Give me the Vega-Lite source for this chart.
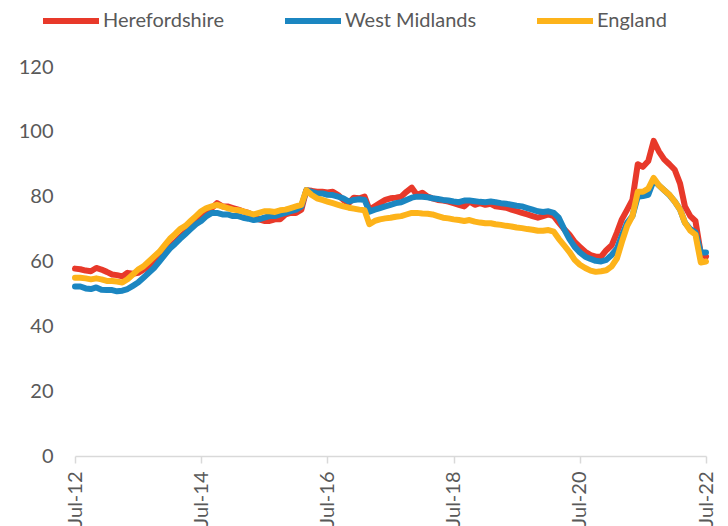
{
"$schema": "https://vega.github.io/schema/vega-lite/v6.json",
"width": 631,
"height": 389,
"autosize": {"type": "none"},
"padding": {"left": 75, "top": 67, "right": 22, "bottom": 70},
"config": {"view": {"stroke": null}, "font": "Lato"},
"data": {"values": [
{"date":"2012-07","region":"Herefordshire","value":57.8},{"date":"2012-08","region":"Herefordshire","value":57.6},{"date":"2012-09","region":"Herefordshire","value":57.2},{"date":"2012-10","region":"Herefordshire","value":57.0},{"date":"2012-11","region":"Herefordshire","value":58.0},{"date":"2012-12","region":"Herefordshire","value":57.5},
{"date":"2013-01","region":"Herefordshire","value":56.8},{"date":"2013-02","region":"Herefordshire","value":56.0},{"date":"2013-03","region":"Herefordshire","value":55.8},{"date":"2013-04","region":"Herefordshire","value":55.4},{"date":"2013-05","region":"Herefordshire","value":56.5},{"date":"2013-06","region":"Herefordshire","value":56.2},{"date":"2013-07","region":"Herefordshire","value":56.5},{"date":"2013-08","region":"Herefordshire","value":57.5},{"date":"2013-09","region":"Herefordshire","value":58.5},{"date":"2013-10","region":"Herefordshire","value":60.0},{"date":"2013-11","region":"Herefordshire","value":61.5},{"date":"2013-12","region":"Herefordshire","value":63.0},
{"date":"2014-01","region":"Herefordshire","value":64.5},{"date":"2014-02","region":"Herefordshire","value":66.0},{"date":"2014-03","region":"Herefordshire","value":67.5},{"date":"2014-04","region":"Herefordshire","value":69.0},{"date":"2014-05","region":"Herefordshire","value":70.5},{"date":"2014-06","region":"Herefordshire","value":72.0},{"date":"2014-07","region":"Herefordshire","value":74.5},{"date":"2014-08","region":"Herefordshire","value":76.0},{"date":"2014-09","region":"Herefordshire","value":76.5},{"date":"2014-10","region":"Herefordshire","value":78.0},{"date":"2014-11","region":"Herefordshire","value":77.0},{"date":"2014-12","region":"Herefordshire","value":77.0},
{"date":"2015-01","region":"Herefordshire","value":76.5},{"date":"2015-02","region":"Herefordshire","value":76.0},{"date":"2015-03","region":"Herefordshire","value":75.5},{"date":"2015-04","region":"Herefordshire","value":75.0},{"date":"2015-05","region":"Herefordshire","value":74.0},{"date":"2015-06","region":"Herefordshire","value":73.0},{"date":"2015-07","region":"Herefordshire","value":72.5},{"date":"2015-08","region":"Herefordshire","value":72.5},{"date":"2015-09","region":"Herefordshire","value":73.0},{"date":"2015-10","region":"Herefordshire","value":73.0},{"date":"2015-11","region":"Herefordshire","value":74.5},{"date":"2015-12","region":"Herefordshire","value":75.0},
{"date":"2016-01","region":"Herefordshire","value":75.0},{"date":"2016-02","region":"Herefordshire","value":76.0},{"date":"2016-03","region":"Herefordshire","value":82.0},{"date":"2016-04","region":"Herefordshire","value":81.8},{"date":"2016-05","region":"Herefordshire","value":81.5},{"date":"2016-06","region":"Herefordshire","value":81.5},{"date":"2016-07","region":"Herefordshire","value":81.3},{"date":"2016-08","region":"Herefordshire","value":81.5},{"date":"2016-09","region":"Herefordshire","value":80.5},{"date":"2016-10","region":"Herefordshire","value":79.0},{"date":"2016-11","region":"Herefordshire","value":78.0},{"date":"2016-12","region":"Herefordshire","value":79.7},
{"date":"2017-01","region":"Herefordshire","value":79.5},{"date":"2017-02","region":"Herefordshire","value":80.0},{"date":"2017-03","region":"Herefordshire","value":76.0},{"date":"2017-04","region":"Herefordshire","value":77.0},{"date":"2017-05","region":"Herefordshire","value":78.0},{"date":"2017-06","region":"Herefordshire","value":79.0},{"date":"2017-07","region":"Herefordshire","value":79.5},{"date":"2017-08","region":"Herefordshire","value":79.7},{"date":"2017-09","region":"Herefordshire","value":80.0},{"date":"2017-10","region":"Herefordshire","value":81.5},{"date":"2017-11","region":"Herefordshire","value":82.8},{"date":"2017-12","region":"Herefordshire","value":80.5},
{"date":"2018-01","region":"Herefordshire","value":81.2},{"date":"2018-02","region":"Herefordshire","value":80.0},{"date":"2018-03","region":"Herefordshire","value":79.5},{"date":"2018-04","region":"Herefordshire","value":79.0},{"date":"2018-05","region":"Herefordshire","value":78.8},{"date":"2018-06","region":"Herefordshire","value":78.5},{"date":"2018-07","region":"Herefordshire","value":78.0},{"date":"2018-08","region":"Herefordshire","value":77.5},{"date":"2018-09","region":"Herefordshire","value":77.0},{"date":"2018-10","region":"Herefordshire","value":78.5},{"date":"2018-11","region":"Herefordshire","value":77.5},{"date":"2018-12","region":"Herefordshire","value":78.0},
{"date":"2019-01","region":"Herefordshire","value":77.5},{"date":"2019-02","region":"Herefordshire","value":77.8},{"date":"2019-03","region":"Herefordshire","value":77.0},{"date":"2019-04","region":"Herefordshire","value":76.8},{"date":"2019-05","region":"Herefordshire","value":76.6},{"date":"2019-06","region":"Herefordshire","value":76.0},{"date":"2019-07","region":"Herefordshire","value":75.5},{"date":"2019-08","region":"Herefordshire","value":75.0},{"date":"2019-09","region":"Herefordshire","value":74.5},{"date":"2019-10","region":"Herefordshire","value":74.0},{"date":"2019-11","region":"Herefordshire","value":73.5},{"date":"2019-12","region":"Herefordshire","value":74.0},
{"date":"2020-01","region":"Herefordshire","value":74.5},{"date":"2020-02","region":"Herefordshire","value":74.0},{"date":"2020-03","region":"Herefordshire","value":72.0},{"date":"2020-04","region":"Herefordshire","value":70.0},{"date":"2020-05","region":"Herefordshire","value":68.3},{"date":"2020-06","region":"Herefordshire","value":66.0},{"date":"2020-07","region":"Herefordshire","value":64.5},{"date":"2020-08","region":"Herefordshire","value":63.0},{"date":"2020-09","region":"Herefordshire","value":62.0},{"date":"2020-10","region":"Herefordshire","value":61.5},{"date":"2020-11","region":"Herefordshire","value":61.5},{"date":"2020-12","region":"Herefordshire","value":63.5},
{"date":"2021-01","region":"Herefordshire","value":65.0},{"date":"2021-02","region":"Herefordshire","value":69.0},{"date":"2021-03","region":"Herefordshire","value":73.0},{"date":"2021-04","region":"Herefordshire","value":76.0},{"date":"2021-05","region":"Herefordshire","value":79.0},{"date":"2021-06","region":"Herefordshire","value":90.0},{"date":"2021-07","region":"Herefordshire","value":89.2},{"date":"2021-08","region":"Herefordshire","value":91.0},{"date":"2021-09","region":"Herefordshire","value":97.2},{"date":"2021-10","region":"Herefordshire","value":94.0},{"date":"2021-11","region":"Herefordshire","value":91.5},{"date":"2021-12","region":"Herefordshire","value":90.0},
{"date":"2022-01","region":"Herefordshire","value":88.3},{"date":"2022-02","region":"Herefordshire","value":84.0},{"date":"2022-03","region":"Herefordshire","value":77.0},{"date":"2022-04","region":"Herefordshire","value":74.0},{"date":"2022-05","region":"Herefordshire","value":72.5},{"date":"2022-06","region":"Herefordshire","value":62.5},{"date":"2022-07","region":"Herefordshire","value":61.5},

{"date":"2012-07","region":"West Midlands","value":52.3},{"date":"2012-08","region":"West Midlands","value":52.3},{"date":"2012-09","region":"West Midlands","value":51.7},{"date":"2012-10","region":"West Midlands","value":51.5},{"date":"2012-11","region":"West Midlands","value":52.0},{"date":"2012-12","region":"West Midlands","value":51.3},
{"date":"2013-01","region":"West Midlands","value":51.2},{"date":"2013-02","region":"West Midlands","value":51.2},{"date":"2013-03","region":"West Midlands","value":50.8},{"date":"2013-04","region":"West Midlands","value":51.0},{"date":"2013-05","region":"West Midlands","value":51.5},{"date":"2013-06","region":"West Midlands","value":52.5},{"date":"2013-07","region":"West Midlands","value":53.5},{"date":"2013-08","region":"West Midlands","value":55.0},{"date":"2013-09","region":"West Midlands","value":56.5},{"date":"2013-10","region":"West Midlands","value":58.0},{"date":"2013-11","region":"West Midlands","value":60.0},{"date":"2013-12","region":"West Midlands","value":62.0},
{"date":"2014-01","region":"West Midlands","value":64.0},{"date":"2014-02","region":"West Midlands","value":65.5},{"date":"2014-03","region":"West Midlands","value":67.0},{"date":"2014-04","region":"West Midlands","value":68.5},{"date":"2014-05","region":"West Midlands","value":70.0},{"date":"2014-06","region":"West Midlands","value":71.5},{"date":"2014-07","region":"West Midlands","value":72.5},{"date":"2014-08","region":"West Midlands","value":74.0},{"date":"2014-09","region":"West Midlands","value":75.0},{"date":"2014-10","region":"West Midlands","value":75.0},{"date":"2014-11","region":"West Midlands","value":74.5},{"date":"2014-12","region":"West Midlands","value":74.5},
{"date":"2015-01","region":"West Midlands","value":74.0},{"date":"2015-02","region":"West Midlands","value":74.0},{"date":"2015-03","region":"West Midlands","value":73.5},{"date":"2015-04","region":"West Midlands","value":73.2},{"date":"2015-05","region":"West Midlands","value":72.8},{"date":"2015-06","region":"West Midlands","value":73.0},{"date":"2015-07","region":"West Midlands","value":73.5},{"date":"2015-08","region":"West Midlands","value":74.0},{"date":"2015-09","region":"West Midlands","value":74.0},{"date":"2015-10","region":"West Midlands","value":74.5},{"date":"2015-11","region":"West Midlands","value":75.0},{"date":"2015-12","region":"West Midlands","value":75.5},
{"date":"2016-01","region":"West Midlands","value":76.0},{"date":"2016-02","region":"West Midlands","value":77.0},{"date":"2016-03","region":"West Midlands","value":82.0},{"date":"2016-04","region":"West Midlands","value":81.5},{"date":"2016-05","region":"West Midlands","value":81.0},{"date":"2016-06","region":"West Midlands","value":81.0},{"date":"2016-07","region":"West Midlands","value":80.6},{"date":"2016-08","region":"West Midlands","value":80.5},{"date":"2016-09","region":"West Midlands","value":80.0},{"date":"2016-10","region":"West Midlands","value":79.5},{"date":"2016-11","region":"West Midlands","value":78.5},{"date":"2016-12","region":"West Midlands","value":79.0},
{"date":"2017-01","region":"West Midlands","value":79.2},{"date":"2017-02","region":"West Midlands","value":79.0},{"date":"2017-03","region":"West Midlands","value":75.4},{"date":"2017-04","region":"West Midlands","value":76.0},{"date":"2017-05","region":"West Midlands","value":76.5},{"date":"2017-06","region":"West Midlands","value":77.0},{"date":"2017-07","region":"West Midlands","value":77.5},{"date":"2017-08","region":"West Midlands","value":78.0},{"date":"2017-09","region":"West Midlands","value":78.3},{"date":"2017-10","region":"West Midlands","value":79.0},{"date":"2017-11","region":"West Midlands","value":79.7},{"date":"2017-12","region":"West Midlands","value":80.0},
{"date":"2018-01","region":"West Midlands","value":80.0},{"date":"2018-02","region":"West Midlands","value":79.8},{"date":"2018-03","region":"West Midlands","value":79.5},{"date":"2018-04","region":"West Midlands","value":79.3},{"date":"2018-05","region":"West Midlands","value":79.0},{"date":"2018-06","region":"West Midlands","value":78.8},{"date":"2018-07","region":"West Midlands","value":78.5},{"date":"2018-08","region":"West Midlands","value":78.3},{"date":"2018-09","region":"West Midlands","value":78.8},{"date":"2018-10","region":"West Midlands","value":78.8},{"date":"2018-11","region":"West Midlands","value":78.6},{"date":"2018-12","region":"West Midlands","value":78.4},
{"date":"2019-01","region":"West Midlands","value":78.3},{"date":"2019-02","region":"West Midlands","value":78.5},{"date":"2019-03","region":"West Midlands","value":78.3},{"date":"2019-04","region":"West Midlands","value":78.0},{"date":"2019-05","region":"West Midlands","value":77.8},{"date":"2019-06","region":"West Midlands","value":77.5},{"date":"2019-07","region":"West Midlands","value":77.2},{"date":"2019-08","region":"West Midlands","value":77.0},{"date":"2019-09","region":"West Midlands","value":76.5},{"date":"2019-10","region":"West Midlands","value":76.0},{"date":"2019-11","region":"West Midlands","value":75.5},{"date":"2019-12","region":"West Midlands","value":75.3},
{"date":"2020-01","region":"West Midlands","value":75.5},{"date":"2020-02","region":"West Midlands","value":75.0},{"date":"2020-03","region":"West Midlands","value":73.5},{"date":"2020-04","region":"West Midlands","value":70.0},{"date":"2020-05","region":"West Midlands","value":67.0},{"date":"2020-06","region":"West Midlands","value":64.5},{"date":"2020-07","region":"West Midlands","value":62.8},{"date":"2020-08","region":"West Midlands","value":61.5},{"date":"2020-09","region":"West Midlands","value":60.8},{"date":"2020-10","region":"West Midlands","value":60.2},{"date":"2020-11","region":"West Midlands","value":60.0},{"date":"2020-12","region":"West Midlands","value":60.5},
{"date":"2021-01","region":"West Midlands","value":62.0},{"date":"2021-02","region":"West Midlands","value":64.0},{"date":"2021-03","region":"West Midlands","value":68.0},{"date":"2021-04","region":"West Midlands","value":72.0},{"date":"2021-05","region":"West Midlands","value":74.0},{"date":"2021-06","region":"West Midlands","value":80.0},{"date":"2021-07","region":"West Midlands","value":80.2},{"date":"2021-08","region":"West Midlands","value":80.6},{"date":"2021-09","region":"West Midlands","value":85.0},{"date":"2021-10","region":"West Midlands","value":83.5},{"date":"2021-11","region":"West Midlands","value":82.0},{"date":"2021-12","region":"West Midlands","value":80.5},
{"date":"2022-01","region":"West Midlands","value":78.5},{"date":"2022-02","region":"West Midlands","value":76.0},{"date":"2022-03","region":"West Midlands","value":72.0},{"date":"2022-04","region":"West Midlands","value":70.0},{"date":"2022-05","region":"West Midlands","value":69.0},{"date":"2022-06","region":"West Midlands","value":62.8},{"date":"2022-07","region":"West Midlands","value":62.8},

{"date":"2012-07","region":"England","value":55.0},{"date":"2012-08","region":"England","value":55.0},{"date":"2012-09","region":"England","value":54.8},{"date":"2012-10","region":"England","value":54.5},{"date":"2012-11","region":"England","value":54.8},{"date":"2012-12","region":"England","value":54.5},
{"date":"2013-01","region":"England","value":54.0},{"date":"2013-02","region":"England","value":54.0},{"date":"2013-03","region":"England","value":53.8},{"date":"2013-04","region":"England","value":53.5},{"date":"2013-05","region":"England","value":54.5},{"date":"2013-06","region":"England","value":56.0},{"date":"2013-07","region":"England","value":57.5},{"date":"2013-08","region":"England","value":58.5},{"date":"2013-09","region":"England","value":60.0},{"date":"2013-10","region":"England","value":61.5},{"date":"2013-11","region":"England","value":63.0},{"date":"2013-12","region":"England","value":65.0},
{"date":"2014-01","region":"England","value":67.0},{"date":"2014-02","region":"England","value":68.5},{"date":"2014-03","region":"England","value":70.0},{"date":"2014-04","region":"England","value":71.0},{"date":"2014-05","region":"England","value":72.5},{"date":"2014-06","region":"England","value":74.0},{"date":"2014-07","region":"England","value":75.5},{"date":"2014-08","region":"England","value":76.5},{"date":"2014-09","region":"England","value":77.0},{"date":"2014-10","region":"England","value":77.5},{"date":"2014-11","region":"England","value":77.0},{"date":"2014-12","region":"England","value":76.5},
{"date":"2015-01","region":"England","value":76.0},{"date":"2015-02","region":"England","value":75.8},{"date":"2015-03","region":"England","value":75.5},{"date":"2015-04","region":"England","value":75.0},{"date":"2015-05","region":"England","value":74.5},{"date":"2015-06","region":"England","value":75.0},{"date":"2015-07","region":"England","value":75.5},{"date":"2015-08","region":"England","value":75.5},{"date":"2015-09","region":"England","value":75.3},{"date":"2015-10","region":"England","value":75.8},{"date":"2015-11","region":"England","value":76.0},{"date":"2015-12","region":"England","value":76.5},
{"date":"2016-01","region":"England","value":77.0},{"date":"2016-02","region":"England","value":77.5},{"date":"2016-03","region":"England","value":82.0},{"date":"2016-04","region":"England","value":80.5},{"date":"2016-05","region":"England","value":79.5},{"date":"2016-06","region":"England","value":79.0},{"date":"2016-07","region":"England","value":78.5},{"date":"2016-08","region":"England","value":78.0},{"date":"2016-09","region":"England","value":77.5},{"date":"2016-10","region":"England","value":77.0},{"date":"2016-11","region":"England","value":76.6},{"date":"2016-12","region":"England","value":76.3},
{"date":"2017-01","region":"England","value":76.0},{"date":"2017-02","region":"England","value":75.8},{"date":"2017-03","region":"England","value":71.5},{"date":"2017-04","region":"England","value":72.5},{"date":"2017-05","region":"England","value":73.0},{"date":"2017-06","region":"England","value":73.3},{"date":"2017-07","region":"England","value":73.5},{"date":"2017-08","region":"England","value":73.8},{"date":"2017-09","region":"England","value":74.0},{"date":"2017-10","region":"England","value":74.5},{"date":"2017-11","region":"England","value":75.0},{"date":"2017-12","region":"England","value":75.0},
{"date":"2018-01","region":"England","value":74.8},{"date":"2018-02","region":"England","value":74.7},{"date":"2018-03","region":"England","value":74.5},{"date":"2018-04","region":"England","value":74.0},{"date":"2018-05","region":"England","value":73.5},{"date":"2018-06","region":"England","value":73.3},{"date":"2018-07","region":"England","value":73.0},{"date":"2018-08","region":"England","value":72.8},{"date":"2018-09","region":"England","value":72.5},{"date":"2018-10","region":"England","value":72.8},{"date":"2018-11","region":"England","value":72.3},{"date":"2018-12","region":"England","value":72.0},
{"date":"2019-01","region":"England","value":71.8},{"date":"2019-02","region":"England","value":71.8},{"date":"2019-03","region":"England","value":71.5},{"date":"2019-04","region":"England","value":71.3},{"date":"2019-05","region":"England","value":71.0},{"date":"2019-06","region":"England","value":70.8},{"date":"2019-07","region":"England","value":70.5},{"date":"2019-08","region":"England","value":70.3},{"date":"2019-09","region":"England","value":70.0},{"date":"2019-10","region":"England","value":69.8},{"date":"2019-11","region":"England","value":69.5},{"date":"2019-12","region":"England","value":69.5},
{"date":"2020-01","region":"England","value":69.7},{"date":"2020-02","region":"England","value":69.2},{"date":"2020-03","region":"England","value":67.0},{"date":"2020-04","region":"England","value":65.0},{"date":"2020-05","region":"England","value":63.0},{"date":"2020-06","region":"England","value":60.5},{"date":"2020-07","region":"England","value":59.0},{"date":"2020-08","region":"England","value":58.0},{"date":"2020-09","region":"England","value":57.2},{"date":"2020-10","region":"England","value":56.8},{"date":"2020-11","region":"England","value":57.0},{"date":"2020-12","region":"England","value":57.3},
{"date":"2021-01","region":"England","value":58.5},{"date":"2021-02","region":"England","value":61.0},{"date":"2021-03","region":"England","value":66.0},{"date":"2021-04","region":"England","value":71.0},{"date":"2021-05","region":"England","value":74.0},{"date":"2021-06","region":"England","value":81.5},{"date":"2021-07","region":"England","value":81.5},{"date":"2021-08","region":"England","value":82.5},{"date":"2021-09","region":"England","value":85.8},{"date":"2021-10","region":"England","value":83.5},{"date":"2021-11","region":"England","value":82.0},{"date":"2021-12","region":"England","value":80.6},
{"date":"2022-01","region":"England","value":78.5},{"date":"2022-02","region":"England","value":76.0},{"date":"2022-03","region":"England","value":72.0},{"date":"2022-04","region":"England","value":69.5},{"date":"2022-05","region":"England","value":68.3},{"date":"2022-06","region":"England","value":59.7},{"date":"2022-07","region":"England","value":60.0}
]},
"mark": {"type": "line", "strokeWidth": 6, "strokeJoin": "round", "strokeCap": "round"},
"encoding": {
"x": {"field": "date", "type": "temporal",
 "scale": {"type": "utc", "domain": [{"year": 2012, "month": 7, "date": 1, "utc": true}, {"year": 2022, "month": 7, "date": 1, "utc": true}]},
 "axis": {"title": null, "grid": false, "format": "%b-%y", "labelAngle": -90, "labelFontSize": 20, "labelColor": "#595959", "domainColor": "#D9D9D9", "domainWidth": 1.5, "tickColor": "#D9D9D9", "tickWidth": 1.5, "tickSize": 7, "labelPadding": 8, "labelFlush": false, "labelOverlap": false,
  "values": [{"year": 2012, "month": 7, "date": 1, "utc": true}, {"year": 2014, "month": 7, "date": 1, "utc": true}, {"year": 2016, "month": 7, "date": 1, "utc": true}, {"year": 2018, "month": 7, "date": 1, "utc": true}, {"year": 2020, "month": 7, "date": 1, "utc": true}, {"year": 2022, "month": 7, "date": 1, "utc": true}]}},
"y": {"field": "value", "type": "quantitative", "scale": {"domain": [0, 120]},
 "axis": {"title": null, "grid": false, "domain": false, "ticks": false, "values": [0, 20, 40, 60, 80, 100, 120], "labelFontSize": 20, "labelColor": "#595959", "labelPadding": 22}},
"color": {"field": "region", "type": "nominal",
 "scale": {"domain": ["Herefordshire", "West Midlands", "England"], "range": ["#E8392A", "#1B86C1", "#FDB31A"]},
 "legend": {"title": null, "orient": "none", "legendX": -35, "legendY": -77, "direction": "horizontal", "symbolType": "stroke", "symbolSize": 3136, "symbolStrokeWidth": 6, "labelFontSize": 20, "labelColor": "#595959", "columnPadding": 48, "labelOffset": 1}}
}
}
